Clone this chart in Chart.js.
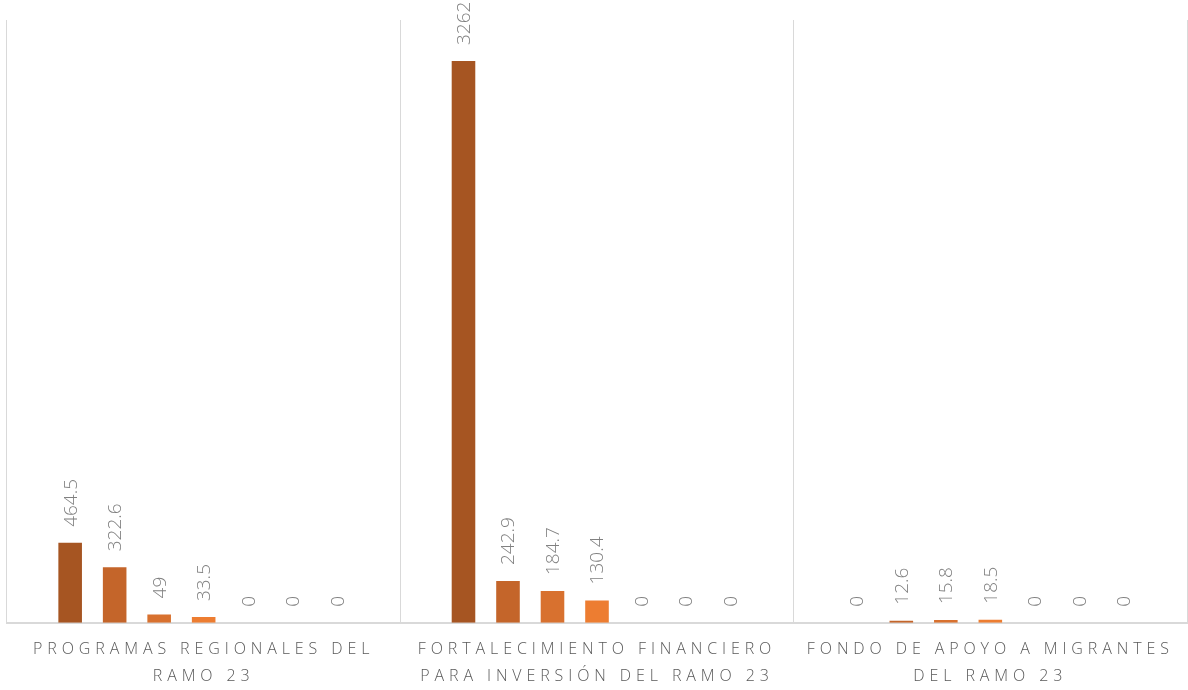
<!DOCTYPE html>
<html>
<head>
<meta charset="utf-8">
<script src="https://cdn.jsdelivr.net/npm/chart.js@4"></script>
<style>
html,body{margin:0;padding:0;background:#fff;}
#wrap{width:1188px;height:690px;position:relative;}
</style>
</head>
<body>
<div id="wrap"><canvas id="c" width="1188" height="690"></canvas></div>
<script>
const categories = [
  ["PROGRAMAS REGIONALES DEL", "RAMO 23"],
  ["FORTALECIMIENTO FINANCIERO", "PARA INVERSIÓN DEL RAMO 23"],
  ["FONDO DE APOYO A MIGRANTES", "DEL RAMO 23"]
];
const seriesNames = ["Serie 1", "Serie 2", "Serie 3", "Serie 4", "Serie 5", "Serie 6", "Serie 7"];
const serie1 = [464.5, 3262, 0];
const serie2 = [322.6, 242.9, 12.6];
const serie3 = [49, 184.7, 15.8];
const serie4 = [33.5, 130.4, 18.5];
const serie5 = [0, 0, 0];
const serie6 = [0, 0, 0];
const serie7 = [0, 0, 0];
const seriesValues = [serie1, serie2, serie3, serie4, serie5, serie6, serie7];
const seriesColors = ["#A65522", "#C4652A", "#D8712F", "#ED7D31", "#F19A5E", "#F4B183", "#F8CBAD"];
const yMax = 3500;

const valueLabels = {
  id: 'valueLabels',
  beforeDraw(chart) {
    chart.ctx.letterSpacing = '4.9px';
  },
  afterDatasetsDraw(chart) {
    const ctx = chart.ctx;
    ctx.save();
    ctx.letterSpacing = '0px';
    ctx.font = '300 19px "Open Sans"';
    ctx.fillStyle = '#808080';
    ctx.textAlign = 'left';
    ctx.textBaseline = 'middle';
    chart.data.datasets.forEach((ds, i) => {
      const meta = chart.getDatasetMeta(i);
      meta.data.forEach((bar, j) => {
        const v = ds.data[j];
        ctx.save();
        ctx.translate(bar.x, bar.y - 16);
        ctx.rotate(-Math.PI / 2);
        ctx.fillText(String(v), 0, 1);
        ctx.restore();
      });
    });
    ctx.restore();
  }
};

new Chart(document.getElementById('c'), {
  type: 'bar',
  data: {
    labels: categories,
    datasets: seriesValues.map((vals, i) => ({
      label: seriesNames[i],
      data: vals,
      backgroundColor: seriesColors[i],
      borderWidth: 0,
      barPercentage: 0.53,
      categoryPercentage: 0.792
    }))
  },
  options: {
    responsive: false,
    animation: false,
    events: [],
    layout: { padding: { left: 7, right: 1, top: 20, bottom: -13 } },
    plugins: { legend: { display: false }, tooltip: { enabled: false } },
    scales: {
      x: {
        offset: true,
        grid: { display: true, offset: true, color: '#d9d9d9', lineWidth: 1, drawTicks: false },
        border: { display: true, color: '#d9d9d9', width: 2 },
        ticks: {
          color: '#595959',
          font: { family: '"Open Sans"', size: 16, weight: '300', lineHeight: 1.63 },
          padding: 14,
          maxRotation: 0,
          autoSkip: false
        }
      },
      y: {
        display: false,
        min: 0,
        max: yMax
      }
    }
  },
  plugins: [valueLabels]
});
</script>
</body>
</html>
